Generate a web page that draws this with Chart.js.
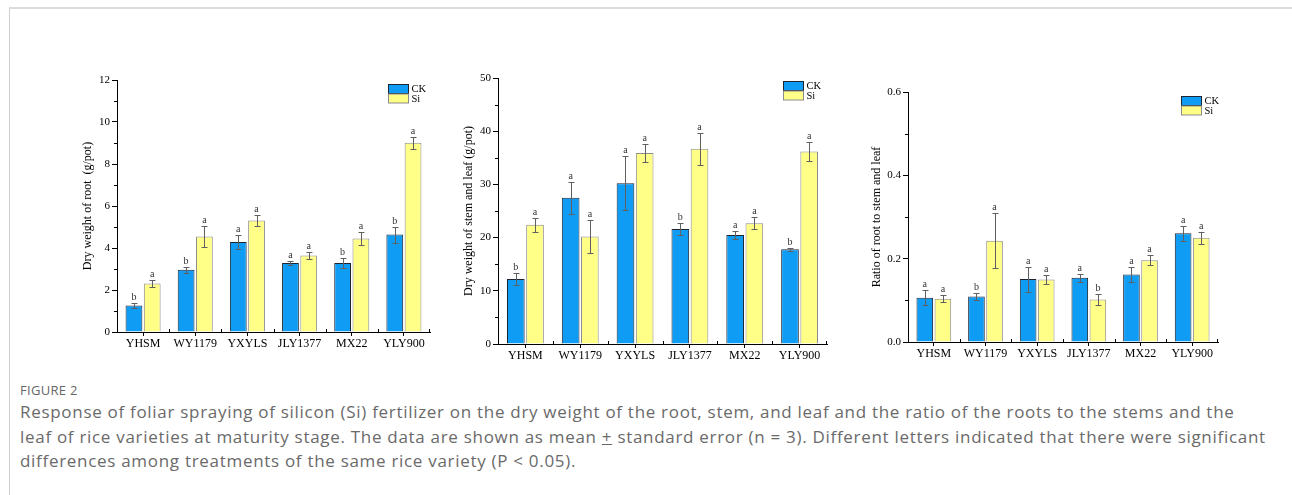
<!DOCTYPE html>
<html>
<head>
<meta charset="utf-8">
<script src="https://cdn.jsdelivr.net/npm/chart.js@4"></script>
<style>
  body { margin: 0; background: #fff; width: 1292px; height: 495px; overflow: hidden; position: relative; }
  .frame { position: absolute; left: 9px; top: 7px; right: 0; bottom: 0; border-top: 2px solid #dcdcdc; border-left: 1px solid #cfcfcf; }
  canvas { position: absolute; }
  #figLabel { position: absolute; left: 20px; top: 381px; font: 13px "Open Sans", sans-serif; color: #666; letter-spacing: 0.3px; }
  #caption { position: absolute; left: 20px; top: 400px; font: 17px/24.5px "Open Sans", sans-serif; color: #6a6a6a; white-space: nowrap; letter-spacing: 0.7px; }
</style>
</head>
<body>
<div class="frame"></div>
<canvas id="chartRoot" width="370" height="300" style="left:80px;top:60px"></canvas>
<canvas id="chartStem" width="381" height="314" style="left:461px;top:58px"></canvas>
<canvas id="chartRatio" width="364" height="298" style="left:869px;top:72px"></canvas>
<div id="figLabel">FIGURE 2</div>
<div id="caption">Response of foliar spraying of silicon (Si) fertilizer on the dry weight of the root, stem, and leaf and the ratio of the roots to the stems and the<br>leaf of rice varieties at maturity stage. The data are shown as mean <u>+</u> standard error (n = 3). Different letters indicated that there were significant<br>differences among treatments of the same rice variety (P &lt; 0.05).</div>
<script>
const categories = ['YHSM', 'WY1179', 'YXYLS', 'JLY1377', 'MX22', 'YLY900'];

// dry weight of root (g/pot)
const rootCK = [1.26, 2.96, 4.28, 3.29, 3.29, 4.64];
const rootCKErr = [0.14, 0.15, 0.32, 0.10, 0.25, 0.38];
const rootCKSig = ['b', 'b', 'a', 'a', 'b', 'b'];
const rootSi = [2.31, 4.55, 5.31, 3.64, 4.45, 9.01];
const rootSiErr = [0.18, 0.48, 0.24, 0.18, 0.29, 0.29];
const rootSiSig = ['a', 'a', 'a', 'a', 'a', 'a'];

// dry weight of stem and leaf (g/pot)
const stemCK = [12.2, 27.5, 30.2, 21.6, 20.5, 17.8];
const stemCKErr = [1.1, 3.0, 5.1, 1.1, 0.8, 0.3];
const stemCKSig = ['b', 'a', 'a', 'b', 'a', 'b'];
const stemSi = [22.4, 20.2, 35.9, 36.7, 22.7, 36.2];
const stemSiErr = [1.3, 3.1, 1.7, 3.0, 1.1, 1.8];
const stemSiSig = ['a', 'a', 'a', 'a', 'a', 'a'];

// ratio of root to stem and leaf
const ratioCK = [0.106, 0.109, 0.151, 0.154, 0.162, 0.261];
const ratioCKErr = [0.018, 0.009, 0.030, 0.010, 0.019, 0.018];
const ratioCKSig = ['a', 'b', 'a', 'a', 'a', 'a'];
const ratioSi = [0.104, 0.243, 0.150, 0.102, 0.196, 0.250];
const ratioSiErr = [0.008, 0.066, 0.010, 0.014, 0.012, 0.015];
const ratioSiSig = ['a', 'a', 'a', 'b', 'a', 'a'];

const ckColor = '#0e9cf4';
const siColor = '#ffff88';
const ckEdge = '#1c2530';
const siEdge = '#8c8c8c';

Chart.defaults.font.family = '"Liberation Serif", "Times New Roman", serif';
Chart.defaults.color = '#000';

// error bars + significance letters, positioned through the y scale
const barExtras = {
    id: 'barExtras',
    afterDatasetsDraw(chart) {
        const ctx = chart.ctx;
        const y = chart.scales.y;
        chart.data.datasets.forEach((ds, i) => {
            chart.getDatasetMeta(i).data.forEach((bar, j) => {
                const v = ds.data[j], e = ds.errors[j];
                const x = Math.round(bar.x) + 0.5;
                const yt = Math.round(y.getPixelForValue(v + e)) + 0.5;
                const yb = Math.round(y.getPixelForValue(v - e)) + 0.5;
                ctx.save();
                ctx.strokeStyle = '#606060';
                ctx.lineWidth = 1;
                ctx.beginPath();
                ctx.moveTo(x, yt); ctx.lineTo(x, yb);
                ctx.moveTo(x - 3, yt); ctx.lineTo(x + 3, yt);
                ctx.moveTo(x - 3, yb); ctx.lineTo(x + 3, yb);
                ctx.stroke();
                ctx.fillStyle = '#333';
                ctx.font = '10px "Liberation Serif"';
                ctx.textAlign = 'center';
                ctx.textBaseline = 'alphabetic';
                ctx.fillText(ds.letters[j], bar.x, yt - 4);
                ctx.restore();
            });
        });
    }
};

// small legend inside the plot (top right) + minor ticks on both axes
const panelDecor = {
    id: 'panelDecor',
    afterDraw(chart, args, opts) {
        const ctx = chart.ctx;
        const area = chart.chartArea;
        const x = chart.scales.x, y = chart.scales.y;
        ctx.save();
        ctx.strokeStyle = '#000';
        ctx.lineWidth = 1;
        ctx.beginPath();
        const ticks = y.ticks.map(t => t.value);
        for (let k = 0; k < ticks.length - 1; k++) {
            const py = Math.round(y.getPixelForValue((ticks[k] + ticks[k + 1]) / 2)) + 0.5;
            ctx.moveTo(area.left - 3, py); ctx.lineTo(area.left, py);
        }
        const n = chart.data.labels.length;
        for (let k = 1; k <= n; k++) {
            const xx = k < n
                ? Math.round((x.getPixelForValue(k - 1) + x.getPixelForValue(k)) / 2) + 0.5
                : Math.round(area.right) - 0.5;
            ctx.moveTo(xx, area.bottom); ctx.lineTo(xx, area.bottom - 3);
        }
        ctx.stroke();

        const bx = Math.round(area.right - opts.dx) + 0.5;
        let by = Math.round(area.top + opts.dy) + 0.5;
        const items = [['CK', ckColor, ckEdge], ['Si', siColor, siEdge]];
        ctx.font = '10.5px "Liberation Serif"';
        ctx.textBaseline = 'middle';
        ctx.textAlign = 'left';
        items.forEach(([name, fill, edge]) => {
            ctx.fillStyle = fill;
            ctx.fillRect(bx, by, 20, 9);
            ctx.strokeStyle = edge;
            ctx.strokeRect(bx, by, 20, 9);
            ctx.fillStyle = '#000';
            ctx.fillText(name, bx + 23, by + 5);
            by += 9.5;
        });
        ctx.restore();
    }
};

function makePanel(canvasId, ck, ckErr, ckSig, si, siErr, siSig, yMax, yStep, yTitle, yWidth, padRight, legendPos, digits) {
    const ctx = document.getElementById(canvasId).getContext('2d');
    const common = { borderWidth: 1, categoryPercentage: 0.7, barPercentage: 0.92 };
    return new Chart(ctx, {
        type: 'bar',
        data: {
            labels: categories,
            datasets: [
                { label: 'CK', data: ck, errors: ckErr, letters: ckSig, backgroundColor: ckColor, borderColor: ckEdge, ...common },
                { label: 'Si', data: si, errors: siErr, letters: siSig, backgroundColor: siColor, borderColor: siEdge, ...common }
            ]
        },
        options: {
            responsive: false,
            animation: false,
            layout: { padding: { top: 20, right: padRight, left: 0, bottom: 0 } },
            plugins: {
                legend: { display: false },
                tooltip: { enabled: false },
                panelDecor: legendPos
            },
            scales: {
                x: {
                    grid: { offset: false, drawOnChartArea: false, tickLength: 4, color: '#000' },
                    border: { color: '#000' },
                    ticks: { font: { size: 12 }, color: '#000', padding: 1, maxRotation: 0 },
                    afterFit: s => { s.height = 28; }
                },
                y: {
                    min: 0, max: yMax,
                    grid: { drawOnChartArea: false, tickLength: 5, color: '#000' },
                    border: { color: '#000' },
                    ticks: { stepSize: yStep, font: { size: 11 }, color: '#000', padding: 2,
                             callback: v => v.toFixed(digits) },
                    title: { display: true, text: yTitle, font: { size: 12 }, color: '#000', padding: { top: 1, bottom: 0 } },
                    afterFit: s => { s.width = yWidth; }
                }
            }
        },
        plugins: [barExtras, panelDecor]
    });
}

makePanel('chartRoot', rootCK, rootCKErr, rootCKSig, rootSi, rootSiErr, rootSiSig,
    12, 2, 'Dry weight of root  (g/pot)', 37, 20, { dx: 42, dy: 4 }, 0);
makePanel('chartStem', stemCK, stemCKErr, stemCKSig, stemSi, stemSiErr, stemSiSig,
    50, 10, 'Dry weight of stem and leaf (g/pot)', 37, 15, { dx: 44, dy: 3 }, 0);
makePanel('chartRatio', ratioCK, ratioCKErr, ratioCKSig, ratioSi, ratioSiErr, ratioSiSig,
    0.6, 0.2, 'Ratio of root to stem and leaf', 39, 15, { dx: 37, dy: 4 }, 1);
</script>
</body>
</html>
